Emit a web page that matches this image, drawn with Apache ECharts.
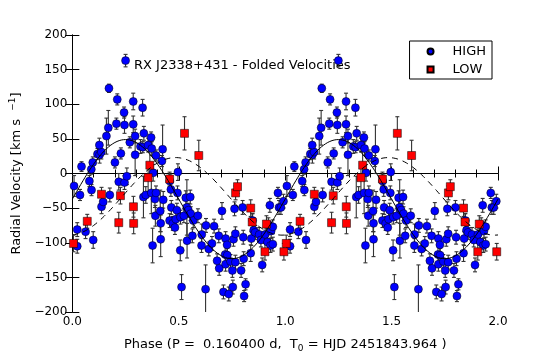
<!DOCTYPE html>
<html>
<head>
<meta charset="utf-8">
<script src="https://cdn.jsdelivr.net/npm/echarts@6/dist/echarts.min.js"></script>
<style>
  html, body { margin: 0; padding: 0; background: #fff; }
  #chart { width: 553px; height: 358px; }
</style>
</head>
<body>
<div id="chart"></div>
<script>
// folded radial velocities, one cycle (phase 0..1), drawn twice
var highPhase = [0.043, 0.089, 0.096, 0.118, 0.128, 0.136, 0.127, 0.16, 0.169, 0.172,
  0.2, 0.207, 0.211, 0.228, 0.243, 0.245, 0.25, 0.27, 0.286, 0.286,
  0.295, 0.295, 0.33, 0.336, 0.32, 0.331, 0.356, 0.37, 0.373, 0.393,
  0.424, 0.421, 0.008, 0.036, 0.08, 0.09, 0.137, 0.145, 0.176, 0.218,
  0.245, 0.256, 0.023, 0.023, 0.062, 0.098, 0.334, 0.345, 0.371, 0.388,
  0.393, 0.38, 0.39, 0.413, 0.415, 0.415, 0.377, 0.427, 0.458, 0.463,
  0.465, 0.457, 0.472, 0.482, 0.486, 0.494, 0.496, 0.491, 0.507, 0.513,
  0.508, 0.524, 0.533, 0.538, 0.539, 0.545, 0.554, 0.556, 0.564, 0.568,
  0.59, 0.608, 0.607, 0.626, 0.628, 0.641, 0.656, 0.666, 0.68, 0.688,
  0.69, 0.703, 0.71, 0.718, 0.72, 0.72, 0.727, 0.728, 0.735, 0.743,
  0.752, 0.754, 0.757, 0.762, 0.766, 0.766, 0.793, 0.8, 0.803, 0.805,
  0.807, 0.814, 0.838, 0.841, 0.847, 0.852, 0.859, 0.878, 0.886, 0.892,
  0.906, 0.917, 0.921, 0.928, 0.931, 0.934, 0.942, 0.942, 0.966, 0.971,
  0.98, 0.992];
var highVel = [10, 6, 16, 28, 27, 31, 41, 54, 66, 123,
  16, 72, 107, 29, 88, 70, 163, 45, 104, 71,
  54, 27, 95, 58, 39, 38, 41, 52, 36, 26,
  35, 18, -18, -31, -11, -24, -48, -41, -31, -12,
  -13, -4, -81, -105, -84, -96, -34, -31, -28, -37,
  -28, 1, -61, -54, -72, -95, -104, -38, -11, -23,
  -49, -68, -72, -78, -66, -28, 2, -53, -111, -164,
  -63, -61, -35, -49, -97, -53, -34, -58, -90, -68,
  -61, -88, -104, -167, -75, -109, -101, -76, -126, -90,
  -137, -54, -171, -117, -94, -131, -103, -118, -174, -127,
  -140, -164, -95, -51, -87, -128, -140, -49, -92, -123,
  -177, -160, -115, -94, -68, -82, -85, -88, -96, -132,
  -88, -99, -74, -46, -104, -83, -77, -102, -28, -49,
  -49, -40];
var highErr = [7, 7, 8, 8, 12, 10, 10, 26, 25, 6,
  8, 8, 8, 8, 8, 12, 9, 8, 12, 12,
  10, 30, 12, 10, 10, 8, 10, 8, 10, 8,
  35, 8, 15, 8, 8, 8, 10, 8, 10, 12,
  10, 12, 10, 10, 10, 12, 30, 12, 30, 12,
  10, 12, 15, 30, 12, 25, 25, 12, 10, 10,
  10, 10, 10, 10, 10, 10, 12, 10, 15, 18,
  10, 10, 10, 40, 25, 10, 10, 10, 10, 10,
  10, 15, 10, 35, 10, 10, 10, 10, 10, 10,
  10, 12, 10, 15, 10, 10, 10, 10, 10, 10,
  10, 10, 10, 10, 10, 10, 10, 10, 10, 10,
  8, 8, 12, 10, 10, 10, 10, 10, 10, 10,
  10, 10, 10, 10, 10, 10, 10, 10, 8, 10,
  10, 10];

var lowPhase = [0.005, 0.07, 0.137, 0.218, 0.226, 0.287, 0.288, 0.356, 0.364, 0.457,
  0.527, 0.594, 0.767, 0.776, 0.838, 0.845, 0.912, 0.905, 0.994];
var lowVel = [-101, -69, -30, -71, -32, -48, -72, -6, 12, -8,
  58, 26, -28, -19, -50, -70, -73, -113, -113];
var lowErr = [12, 10, 10, 15, 12, 15, 15, 20, 20, 10,
  24, 22, 10, 10, 12, 12, 12, 12, 12];

// sine fits: gamma + K * cos(2*pi*(phase - peak))
var fitHigh = { gamma: -37, K: 86, peak: 0.25 };
var fitLow = { gamma: -33, K: 56, peak: 0.485 };

function folded(ph, vel, err) {
  var out = [];
  for (var c = 0; c < 2; c++) {
    for (var i = 0; i < ph.length; i++) out.push([ph[i] + c, vel[i], err[i]]);
  }
  return out;
}
var highData = folded(highPhase, highVel, highErr);
var lowData = folded(lowPhase, lowVel, lowErr);

function curve(fit) {
  var pts = [];
  for (var i = 0; i <= 400; i++) {
    var p = i / 200;
    pts.push([p, fit.gamma + fit.K * Math.cos(2 * Math.PI * (p - fit.peak))]);
  }
  return pts;
}

function errRender(params, api) {
  var x = api.value(0), y = api.value(1), e = api.value(2);
  var hi = api.coord([x, y + e]), lo = api.coord([x, y - e]);
  var w = 2;
  var st = { stroke: '#333', lineWidth: 1.1 };
  return {
    type: 'group',
    children: [
      { type: 'line', shape: { x1: hi[0], y1: hi[1], x2: lo[0], y2: lo[1] }, style: st },
      { type: 'line', shape: { x1: hi[0] - w, y1: hi[1], x2: hi[0] + w, y2: hi[1] }, style: st },
      { type: 'line', shape: { x1: lo[0] - w, y1: lo[1], x2: lo[0] + w, y2: lo[1] }, style: st }
    ]
  };
}

var font = 'DejaVu Sans';
var axisLine = { show: true, lineStyle: { color: '#000', width: 1 } };

var chart = echarts.init(document.getElementById('chart'));
chart.setOption({
  animation: false,
  textStyle: { fontFamily: font },
  grid: { left: 69, right: 55, top: 35, bottom: 37 },
  legend: {
    right: 61, top: 41, orient: 'vertical',
    borderColor: '#000', borderWidth: 1, borderRadius: 0,
    padding: [4, 6, 3, 17], itemGap: 5, itemWidth: 6, itemHeight: 6,
    textStyle: { fontSize: 13, color: '#000', fontFamily: font, padding: [0, 0, 0, 14] },
    data: [{ name: 'HIGH', icon: 'circle' }, { name: 'LOW', icon: 'rect' }]
  },
  graphic: [{
    type: 'text', left: 134, top: 59,
    style: { text: 'RX J2338+431 - Folded Velocities', fontSize: 13, fill: '#000', fontFamily: font }
  }],
  xAxis: [{
    type: 'value', min: 0, max: 2, interval: 0.5,
    axisLine: axisLine,
    axisTick: { inside: true, length: 7, lineStyle: { color: '#000' } },
    minorTick: { show: true, splitNumber: 5, length: 4, lineStyle: { color: '#000' } },
    splitLine: { show: false },
    axisLabel: { fontSize: 12, color: '#000', margin: 4, formatter: function (v) { return v.toFixed(1); } },
    name: 'Phase (P =  0.160400 d,  T{sub|0} = HJD 2451843.964 )',
    nameLocation: 'middle', nameGap: 25,
    nameTextStyle: { fontSize: 13, color: '#000', fontFamily: font,
      rich: { sub: { fontSize: 9, padding: [7, 0, 0, 0], fontFamily: font, color: '#000' } } }
  }, {
    type: 'value', min: 0, max: 2, interval: 0.5, position: 'top',
    axisLine: axisLine,
    axisTick: { inside: true, length: 7, lineStyle: { color: '#000' } },
    minorTick: { show: true, splitNumber: 5, length: 4, lineStyle: { color: '#000' } },
    splitLine: { show: false }, axisLabel: { show: false }
  }],
  yAxis: [{
    type: 'value', min: -200, max: 200, interval: 50,
    axisLine: axisLine,
    axisTick: { inside: true, length: 7, lineStyle: { color: '#000' } },
    splitLine: { show: false },
    axisLabel: { fontSize: 12, color: '#000', margin: 5,
      formatter: function (v) { return v < 0 ? '\u2212' + Math.abs(v) : String(v); } },
    name: 'Radial Velocity [km s  {sup|\u22121}]',
    nameLocation: 'middle', nameGap: 30, nameRotate: 90,
    nameTextStyle: { fontSize: 13, color: '#000', fontFamily: font,
      rich: { sup: { fontSize: 9, padding: [0, 0, 9, 0], fontFamily: font, color: '#000' } } }
  }, {
    type: 'value', min: -200, max: 200, interval: 50, position: 'right',
    axisLine: axisLine,
    axisTick: { inside: true, length: 7, lineStyle: { color: '#000' } },
    splitLine: { show: false }, axisLabel: { show: false }
  }],
  series: [
    { type: 'custom', name: 'errHigh', renderItem: errRender, data: highData, clip: true, z: 2 },
    { type: 'custom', name: 'errLow', renderItem: errRender, data: lowData, clip: true, z: 2 },
    {
      type: 'scatter', name: 'HIGH', symbol: 'circle', symbolSize: 8, data: highData, clip: true, z: 3,
      itemStyle: { color: '#0000ff', borderColor: '#000', borderWidth: 0.5, opacity: 1 }
    },
    {
      type: 'scatter', name: 'LOW', symbol: 'rect', symbolSize: 8, data: lowData, clip: true, z: 3,
      itemStyle: { color: '#ff0000', borderColor: '#000', borderWidth: 0.5, opacity: 1 }
    },
    {
      type: 'line', name: 'fitHigh', data: curve(fitHigh), showSymbol: false, z: 4,
      lineStyle: { color: '#000', width: 1 }
    },
    {
      type: 'line', name: 'fitLow', data: curve(fitLow), showSymbol: false, z: 4,
      lineStyle: { color: '#000', width: 1, type: [6, 5] }
    }
  ]
});
</script>
</body>
</html>
